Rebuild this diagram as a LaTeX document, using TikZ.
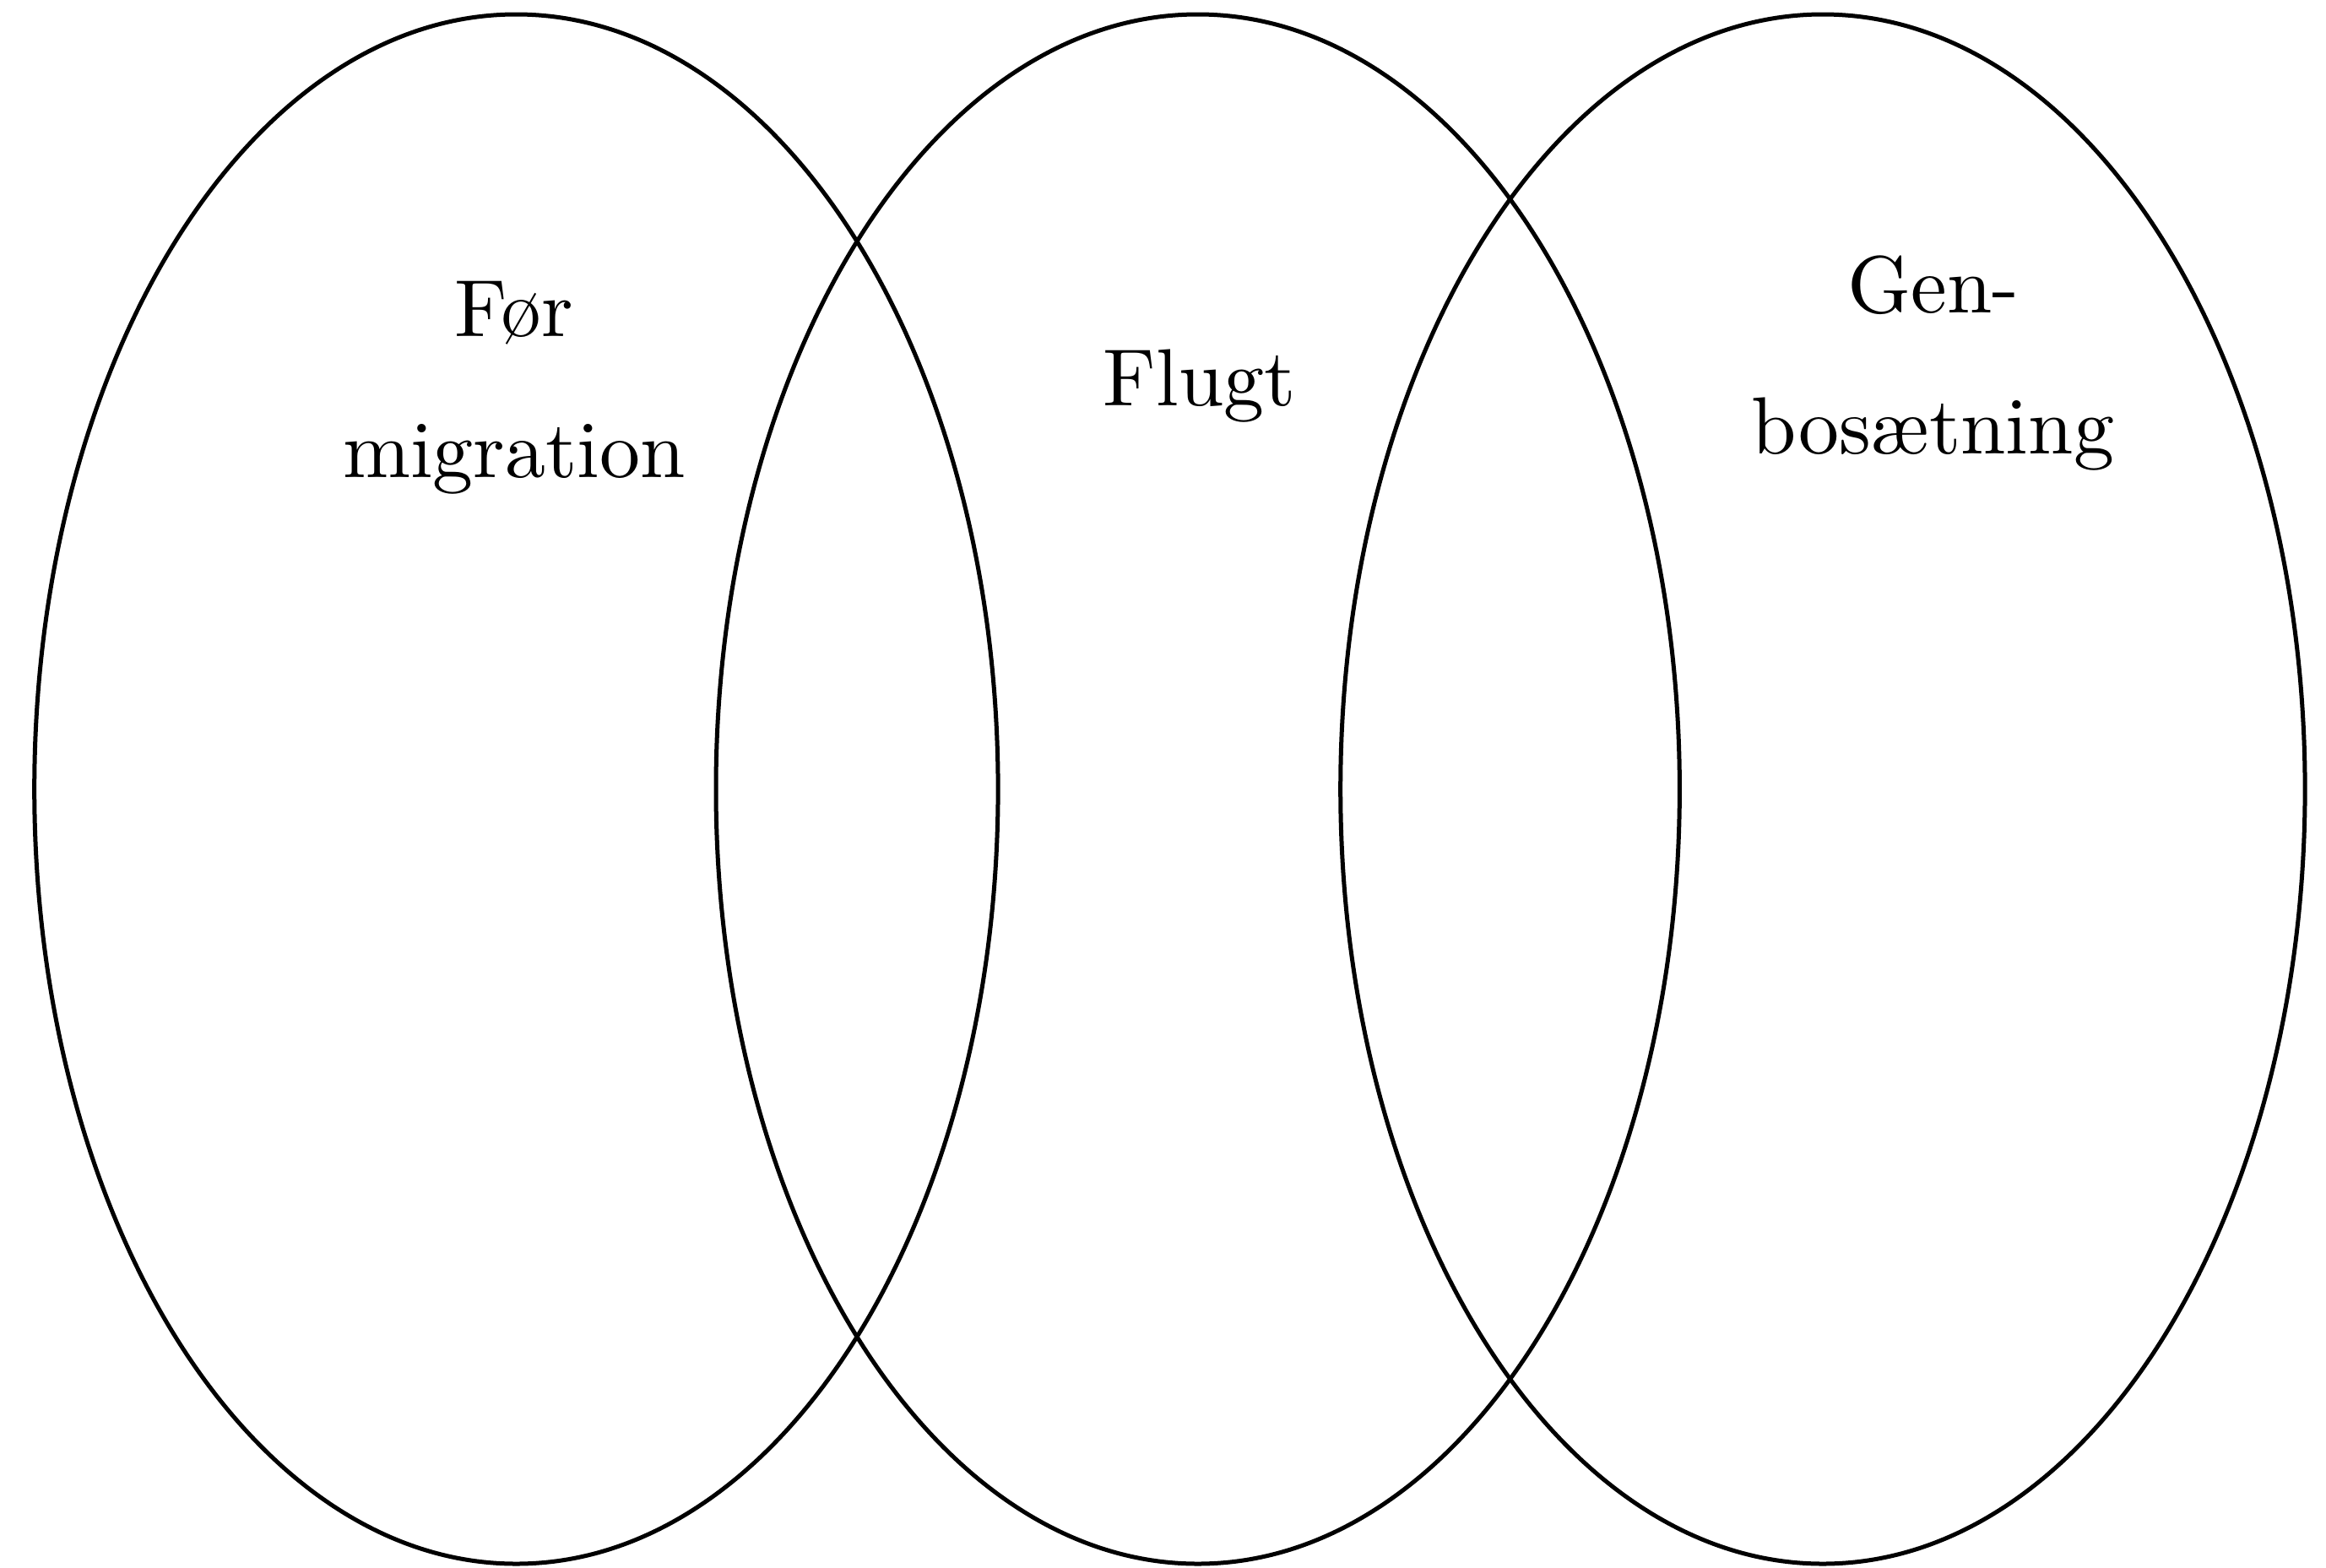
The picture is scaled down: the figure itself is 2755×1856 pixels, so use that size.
\documentclass[tikz,border=0pt]{standalone}
\usepackage{fontspec}
\setmainfont{lmroman10-regular}[Extension=.otf]
\begin{document}
\begin{tikzpicture}[x=1pt,y=-1pt,
  ring/.style={draw=black,line width=5pt},
  lbl/.style={anchor=base,inner sep=0pt,font=\fontsize{96}{118}\selectfont}]
\useasboundingbox[fill=white] (0,0) rectangle (2755,1856);
\draw[ring] (611.4,934.5) ellipse [x radius=570.7, y radius=917.5];
\draw[ring] (1418.7,934.5) ellipse [x radius=570.7, y radius=917.5];
\draw[ring] (2158.9,934.5) ellipse [x radius=571.2, y radius=917.5];
\node[lbl] (for1) at (609,398) {Før};
\node[lbl] (for2) at (609,565) {migration};
\node[lbl] (flugt) at (1421,480) {Flugt};
\node[lbl] (gen1) at (2290,370) {Gen-};
\node[lbl] (gen2) at (2289,537) {bosætning};
\end{tikzpicture}
\end{document}
